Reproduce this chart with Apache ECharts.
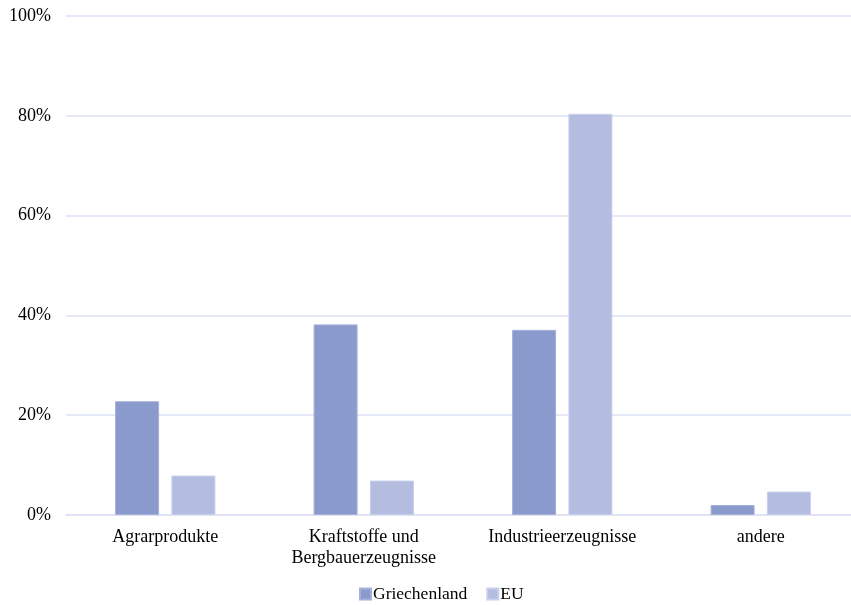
<!DOCTYPE html>
<html>
<head>
<meta charset="utf-8">
<script src="https://cdn.jsdelivr.net/npm/echarts@6/dist/echarts.min.js"></script>
<style>
  html, body { margin: 0; padding: 0; background: #ffffff; overflow: hidden; }
  /* plot area runs slightly past the right edge of the window */
  #chart { width: 861px; height: 605px; }
</style>
</head>
<body>
<div id="chart"></div>
<script>
// Export structure by product group, share of total (%)
const categories = ['Agrarprodukte', 'Kraftstoffe und\nBergbauerzeugnisse', 'Industrieerzeugnisse', 'andere'];
const seriesNames = ['Griechenland', 'EU'];
const griechenland = [22.8, 38.2, 37.1, 2.0];
const eu = [7.9, 6.9, 80.4, 4.7];

const font = '"Liberation Serif", "Times New Roman", serif';
const gridColor = '#dde1f3';

const chart = echarts.init(document.getElementById('chart'), null, { renderer: 'canvas' });
chart.setOption({
  animation: false,
  backgroundColor: '#ffffff',
  textStyle: { fontFamily: font },
  grid: { left: 66, top: 16, right: 1, bottom: 90, containLabel: false },
  legend: {
    data: seriesNames,
    left: 359,
    top: 585,
    padding: 0,
    itemWidth: 11,
    itemHeight: 11,
    itemGap: 19,
    icon: 'rect',
    textStyle: { fontFamily: font, fontSize: 17.5, color: '#000000', padding: [0, 0, 0, -3] }
  },
  xAxis: {
    type: 'category',
    data: categories,
    axisLine: { show: true, lineStyle: { color: gridColor, width: 1.5 } },
    axisTick: { show: false },
    axisLabel: {
      color: '#000000',
      fontFamily: font,
      fontSize: 18,
      lineHeight: 21,
      margin: 12,
      interval: 0
    }
  },
  yAxis: {
    type: 'value',
    min: 0,
    max: 100,
    interval: 20,
    axisLine: { show: false },
    axisTick: { show: false },
    splitLine: { lineStyle: { color: gridColor, width: 1.5 } },
    axisLabel: {
      color: '#000000',
      fontFamily: font,
      fontSize: 18,
      margin: 15,
      formatter: '{value}%'
    }
  },
  series: [
    {
      name: seriesNames[0],
      type: 'bar',
      data: griechenland,
      barWidth: 44,
      barGap: '28%',
      itemStyle: { color: '#8a9acc', borderColor: '#a4b1da', borderWidth: 1 }
    },
    {
      name: seriesNames[1],
      type: 'bar',
      data: eu,
      barWidth: 44,
      barGap: '28%',
      itemStyle: { color: '#b4bce0', borderColor: '#c8cfeb', borderWidth: 1 }
    }
  ]
});
</script>
</body>
</html>
